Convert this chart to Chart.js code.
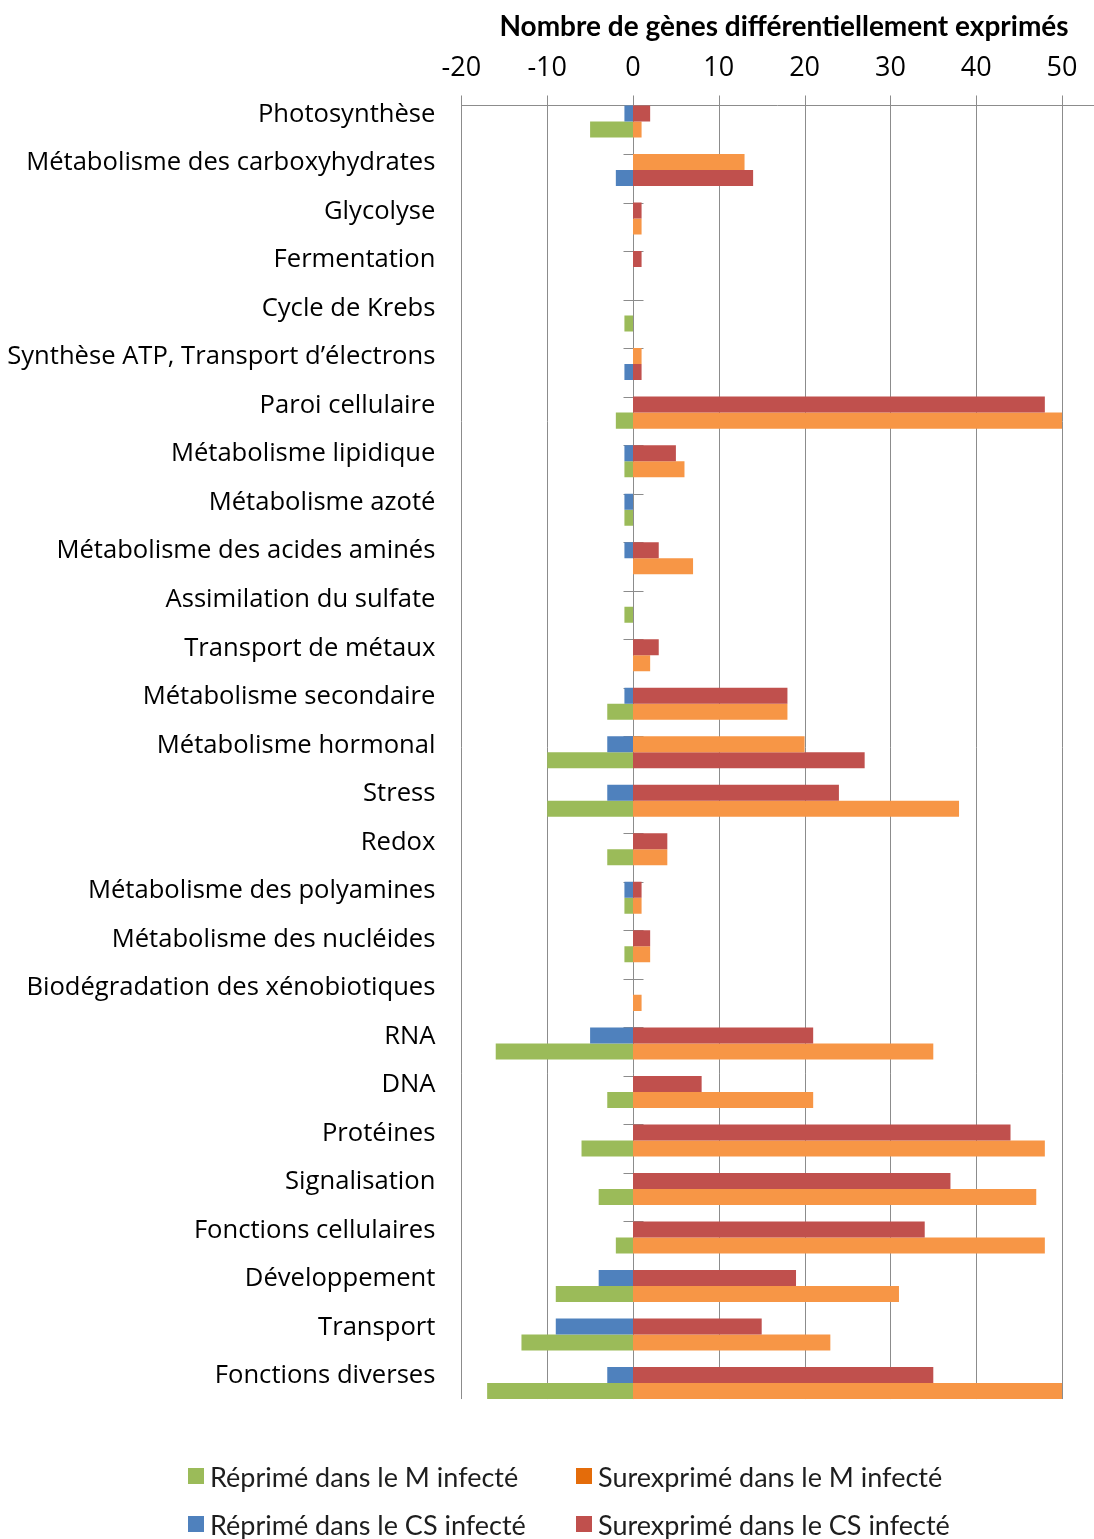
<!DOCTYPE html>
<html lang="fr">
<head>
<meta charset="utf-8">
<title>Nombre de gènes différentiellement exprimés</title>
<script src="https://cdn.jsdelivr.net/npm/chart.js@4.4.1/dist/chart.umd.min.js"></script>
<style>
  html, body { margin: 0; padding: 0; background: #ffffff; }
  #wrap { position: relative; width: 1094px; height: 1539px; overflow: hidden; }
  #c { position: absolute; left: 0; top: 0; }
  .leg { position: absolute; height: 32px; display: flex; align-items: center;
         font-family: Lato, "Open Sans", sans-serif; font-size: 27px; color: #1e1e1e; white-space: nowrap; }
  .leg i { display: inline-block; width: 16px; height: 16px; margin-right: 6px; }
</style>
</head>
<body>
<div id="wrap">
  <canvas id="c" width="1094" height="1539"></canvas>
  <div class="leg" style="left:188px; top:1460px;"><i style="background:#9BBB59"></i>Réprimé dans le M infecté</div>
  <div class="leg" style="left:576px; top:1460px;"><i style="background:#E46C0A"></i>Surexprimé dans le M infecté</div>
  <div class="leg" style="left:188px; top:1508px;"><i style="background:#4F81BD"></i>Réprimé dans le CS infecté</div>
  <div class="leg" style="left:576px; top:1508px;"><i style="background:#C0504D"></i>Surexprimé dans le CS infecté</div>
</div>
<script>
// Functional categories (top to bottom)
const categories = [
  'Photosynthèse',
  'Métabolisme des carboxyhydrates',
  'Glycolyse',
  'Fermentation',
  'Cycle de Krebs',
  'Synthèse ATP, Transport d’électrons',
  'Paroi cellulaire',
  'Métabolisme lipidique',
  'Métabolisme azoté',
  'Métabolisme des acides aminés',
  'Assimilation du sulfate',
  'Transport de métaux',
  'Métabolisme secondaire',
  'Métabolisme hormonal',
  'Stress',
  'Redox',
  'Métabolisme des polyamines',
  'Métabolisme des nucléides',
  'Biodégradation des xénobiotiques',
  'RNA',
  'DNA',
  'Protéines',
  'Signalisation',
  'Fonctions cellulaires',
  'Développement',
  'Transport',
  'Fonctions diverses'
];

// Number of differentially expressed genes per series
const reprimeM     = [-5,  0, 0, 0, -1,  0, -2, -1, -1,  0, -1, 0, -3, -10, -10, -3, -1, -1, 0, -16, -3, -6, -4, -2, -9, -13, -17];
const reprimeCS    = [-1, -2, 0, 0,  0, -1,  0, -1, -1, -1,  0, 0, -1,  -3,  -3,  0, -1,  0, 0,  -5,  0,  0,  0,  0, -4,  -9,  -3];
const surexprimeM  = [ 1, 13, 1, 0,  0,  1, 50,  6,  0,  7,  0, 2, 18,  20,  38,  4,  1,  2, 1,  35, 21, 48, 47, 48, 31,  23,  50];
const surexprimeCS = [ 2, 14, 1, 1,  0,  1, 48,  5,  0,  3,  0, 3, 18,  27,  24,  4,  1,  2, 0,  21,  8, 44, 37, 34, 19,  15,  35];

// Axis ticks
const xTicks = [-20, -10, 0, 10, 20, 30, 40, 50];

// Categories where the M bars sit in the upper slot (CS bars otherwise)
const mUpperNegative = ['Métabolisme des carboxyhydrates', 'Synthèse ATP, Transport d’électrons'];
const mUpperPositive = ['Métabolisme des carboxyhydrates', 'Synthèse ATP, Transport d’électrons', 'Métabolisme hormonal'];

const COLORS = { reprimeM: '#9BBB59', reprimeCS: '#4F81BD', surexprimeM: '#F79646', surexprimeCS: '#C0504D' };

function slotSeries(upperList, mVals, csVals, mColor, csColor, upper) {
  const data = [], colors = [];
  categories.forEach((cat, i) => {
    const mTop = upperList.includes(cat);
    const useM = upper ? mTop : !mTop;
    data.push(useM ? mVals[i] : csVals[i]);
    colors.push(useM ? mColor : csColor);
  });
  return { data, colors };
}

const upNeg = slotSeries(mUpperNegative, reprimeM, reprimeCS, COLORS.reprimeM, COLORS.reprimeCS, true);
const upPos = slotSeries(mUpperPositive, surexprimeM, surexprimeCS, COLORS.surexprimeM, COLORS.surexprimeCS, true);
const loNeg = slotSeries(mUpperNegative, reprimeM, reprimeCS, COLORS.reprimeM, COLORS.reprimeCS, false);
const loPos = slotSeries(mUpperPositive, surexprimeM, surexprimeCS, COLORS.surexprimeM, COLORS.surexprimeCS, false);

const CAT_PCT = 0.66;

function ds(part, stack) {
  return { data: part.data, backgroundColor: part.colors, stack: stack,
           borderWidth: 0, categoryPercentage: CAT_PCT, barPercentage: 1.0 };
}

// Grid, top axis line and zero axis with its category tick marks
const axesPlugin = {
  id: 'excelAxes',
  beforeDatasetsDraw(chart) {
    const { ctx, scales: { x, y } } = chart;
    const step = y.getPixelForValue(1) - y.getPixelForValue(0);
    const slot = step * CAT_PCT / 2;
    const top = y.getPixelForValue(0) - slot;
    const bottom = y.getPixelForValue(categories.length - 1) + slot;
    ctx.save();
    ctx.strokeStyle = '#8c8c8c';
    ctx.lineWidth = 1;
    ctx.beginPath();
    xTicks.forEach(v => {
      const px = Math.round(x.getPixelForValue(v)) + 0.5;
      ctx.moveTo(px, top - 10);
      ctx.lineTo(px, bottom);
    });
    const ty = Math.round(top) + 0.5;
    ctx.moveTo(x.getPixelForValue(xTicks[0]), ty);
    ctx.lineTo(chart.width, ty);
    const x0 = Math.round(x.getPixelForValue(0)) + 0.5;
    categories.forEach((c, k) => {
      const yy = Math.round(y.getPixelForValue(k) - slot) + 0.5;
      ctx.moveTo(x0 - 10, yy);
      ctx.lineTo(x0 + 10, yy);
    });
    ctx.stroke();
    ctx.restore();
  },
  afterDraw(chart) {
    const { ctx } = chart;
    ctx.save();
    ctx.font = 'bold 28px Lato, "Open Sans", sans-serif';
    ctx.fillStyle = '#000';
    ctx.textAlign = 'center';
    ctx.textBaseline = 'middle';
    ctx.fillText('Nombre de gènes différentiellement exprimés', 784, 27);
    ctx.restore();
  }
};

new Chart(document.getElementById('c'), {
  type: 'bar',
  data: {
    labels: categories,
    datasets: [ds(upNeg, 'upper'), ds(upPos, 'upper'), ds(loNeg, 'lower'), ds(loPos, 'lower')]
  },
  options: {
    indexAxis: 'y',
    responsive: false,
    animation: false,
    devicePixelRatio: 1,
    layout: { padding: { left: 0, right: 32, top: 0, bottom: 131.7 } },
    plugins: { legend: { display: false }, tooltip: { enabled: false }, title: { display: false } },
    scales: {
      x: {
        type: 'linear', position: 'top', min: -20, max: 50, stacked: true,
        afterBuildTicks(s) { s.ticks = xTicks.map(v => ({ value: v })); },
        ticks: { font: { family: '"Open Sans"', size: 27 }, color: '#000', padding: 13, maxRotation: 0 },
        grid: { display: false, drawTicks: false },
        border: { display: false },
        afterFit(s) { s.height = 97.24; }
      },
      y: {
        type: 'category',
        ticks: { font: { family: '"Open Sans"', size: 25.6 }, color: '#000', padding: 26, labelOffset: -7, autoSkip: false },
        grid: { display: false, drawTicks: false },
        border: { display: false },
        afterFit(s) { s.width = 461.4; }
      }
    }
  },
  plugins: [axesPlugin]
});
</script>
</body>
</html>
